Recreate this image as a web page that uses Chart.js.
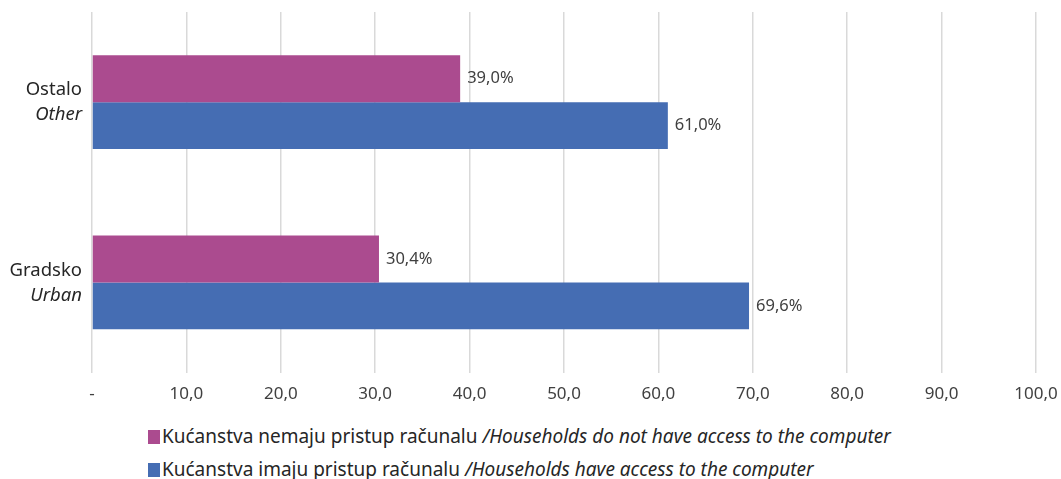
<!DOCTYPE html>
<html>
<head>
<meta charset="utf-8">
<script src="https://cdn.jsdelivr.net/npm/chart.js@4/dist/chart.umd.min.js"></script>
<style>
  body { margin: 0; background: #fff; font-family: "Noto Sans", sans-serif; }
  #wrap { position: relative; width: 1061px; height: 415px; }
  .legend { position: absolute; left: 148px; font-size: 19px; color: #262626; white-space: nowrap; letter-spacing: 0px; }
  .legend i.sw { display: inline-block; width: 12px; height: 14px; margin-right: 2px; vertical-align: -1px; }
</style>
</head>
<body>
<div id="wrap"><canvas id="chart"></canvas></div>
<div class="legend" style="top:423px"><i class="sw" style="background:#ab4b8f"></i>Kućanstva nemaju pristup računalu <em>/Households do not have access to the computer</em></div>
<div class="legend" style="top:456px"><i class="sw" style="background:#456db3"></i>Kućanstva imaju pristup računalu <em>/Households have access to the computer</em></div>
<script>
// categories (top to bottom) with croatian / english names
var categories = ['Ostalo', 'Gradsko'];
var categoriesEn = ['Other', 'Urban'];
var noAccess = [39.0, 30.4];
var hasAccess = [61.0, 69.6];
var xTicks = [0, 10, 20, 30, 40, 50, 60, 70, 80, 90, 100];

// draw the two line category labels (second line italic)
var yLabels = {
  id: 'yLabels',
  afterDraw: function(chart) {
    var ctx = chart.ctx;
    var y = chart.scales.y;
    ctx.save();
    ctx.fillStyle = '#262626';
    ctx.textAlign = 'right';
    ctx.textBaseline = 'middle';
    categories.forEach(function(c, i) {
      var py = y.getPixelForTick(i);
      ctx.font = '18.5px "Noto Sans"';
      ctx.fillText(c, 82, py - 12);
      ctx.font = 'italic 18.5px "Noto Sans"';
      ctx.fillText(categoriesEn[i], 82, py + 13);
    });
    ctx.restore();
  }
};

// value labels at the end of each bar
var barLabels = {
  id: 'barLabels',
  afterDatasetsDraw: function(chart) {
    var ctx = chart.ctx;
    ctx.save();
    ctx.fillStyle = '#404040';
    ctx.font = '16.5px "Noto Sans"';
    ctx.textAlign = 'left';
    ctx.textBaseline = 'middle';
    chart.data.datasets.forEach(function(ds, di) {
      chart.getDatasetMeta(di).data.forEach(function(bar, i) {
        ctx.fillText(ds.data[i].toFixed(1).replace('.', ',') + '%', bar.x + 7, bar.y);
      });
    });
    ctx.restore();
  }
};

new Chart(document.getElementById('chart'), {
  type: 'bar',
  data: {
    labels: categories,
    datasets: [{
      label: 'Kućanstva nemaju pristup računalu',
      data: noAccess,
      backgroundColor: '#ab4b8f',
      barPercentage: 1,
      categoryPercentage: 0.52
    }, {
      label: 'Kućanstva imaju pristup računalu',
      data: hasAccess,
      backgroundColor: '#456db3',
      barPercentage: 1,
      categoryPercentage: 0.52
    }]
  },
  options: {
    indexAxis: 'y',
    responsive: true,
    maintainAspectRatio: false,
    animation: false,
    layout: { padding: { left: 84, right: 25, top: 12, bottom: 0 } },
    plugins: { legend: { display: false }, tooltip: { enabled: false } },
    scales: {
      x: {
        min: 0,
        max: 100,
        afterBuildTicks: function(axis) {
          axis.ticks = xTicks.map(function(v) { return { value: v }; });
        },
        afterFit: function(axis) {
          axis.paddingLeft = 0;
          axis.paddingRight = 0;
        },
        grid: { color: '#d9d9d9', lineWidth: 1.5, drawTicks: false },
        border: { display: false },
        ticks: {
          padding: 11,
          color: '#404040',
          font: { family: 'Noto Sans', size: 17 },
          callback: function(v) { return v === 0 ? '-' : v.toFixed(1).replace('.', ','); }
        }
      },
      y: {
        grid: { display: false },
        border: { display: false },
        ticks: { display: false }
      }
    }
  },
  plugins: [yLabels, barLabels]
});
</script>
</body>
</html>
